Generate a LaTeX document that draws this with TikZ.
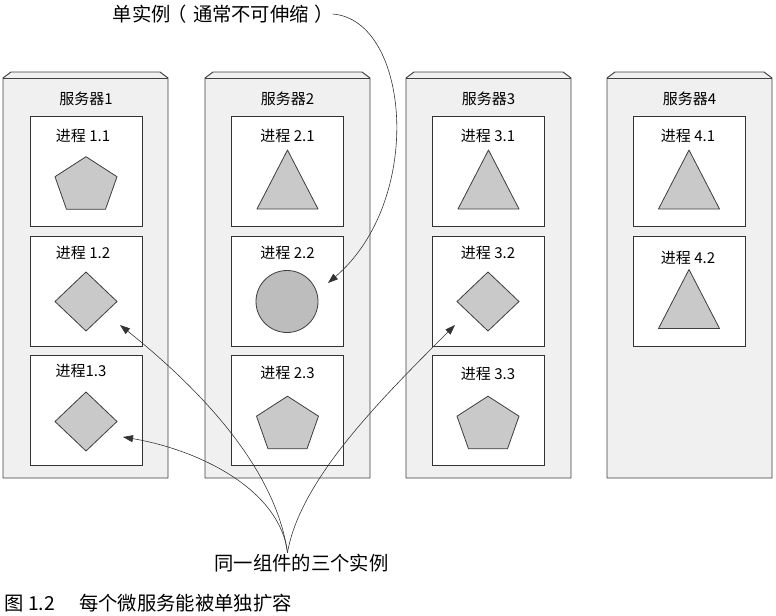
\documentclass[tikz,border=0pt]{standalone}
\usepackage{fontspec}
\setmainfont{Noto Sans CJK SC}
\usepackage{tikz}
\usetikzlibrary{arrows.meta}
\newcommand{\pxu}{0.3mm}
\definecolor{srvgray}{gray}{0.94}
\definecolor{shpgray}{gray}{0.79}
\definecolor{cirgray}{gray}{0.74}
\definecolor{lngray}{gray}{0.25}
\tikzset{
    srv/.style={draw=lngray, line width=0.8pt, fill=srvgray, line join=round},
    proc/.style={draw=black!80, line width=0.8pt, fill=white, inner sep=0pt,
        minimum width=112*\pxu, minimum height=110*\pxu},
    ptext/.style={font=\fontsize{12.8}{15}\selectfont, inner sep=0pt},
    bigtext/.style={font=\fontsize{16.5}{20}\selectfont, inner sep=1pt},
    shp/.style={draw=black!75, line width=0.7pt, fill=shpgray, line join=round},
    pointer/.style={draw=black!80, line width=0.5pt, -{Triangle[length=3mm,width=2.1mm]}},
}
\tikzset{pentashape/.pic={\draw[shp] (0,-26.3) -- (31,-6.3) -- (19.5,26.3) -- (-19.5,26.3) -- (-31,-6.3) -- cycle;}}
\tikzset{trishape/.pic={\draw[shp] (0,-29.5) -- (30.5,29.5) -- (-30.5,29.5) -- cycle;}}
\tikzset{diashape/.pic={\draw[shp] (0,-29.5) -- (31,0) -- (0,29.5) -- (-31,0) -- cycle;}}
\begin{document}
\begin{tikzpicture}[x=\pxu, y=-\pxu]
\useasboundingbox[fill=white] (0,0) rectangle (776,615);
%servers
\draw[srv] (3,478) -- (3,78) -- (11,72) -- (160,72) -- (168,78) -- (168,478) -- cycle;
\draw[lngray] (3,78) -- (168,78);
\draw[srv] (205,478) -- (205,78) -- (213,72) -- (362,72) -- (370,78) -- (370,478) -- cycle;
\draw[lngray] (205,78) -- (370,78);
\draw[srv] (406,478) -- (406,78) -- (414,72) -- (563,72) -- (571,78) -- (571,478) -- cycle;
\draw[lngray] (406,78) -- (571,78);
\draw[srv] (607,478) -- (607,78) -- (615,72) -- (764,72) -- (772,78) -- (772,478) -- cycle;
\draw[lngray] (607,78) -- (772,78);
\node[ptext] (s1) at (86,99) {服务器1};
\node[ptext] (s2) at (287.5,99) {服务器2};
\node[ptext] (s3) at (488.5,99) {服务器3};
\node[ptext] (s4) at (689.5,99) {服务器4};
%processes
\node[proc] (p11) at (86.5,171) {};
\node[proc] (p12) at (86.5,291) {};
\node[proc] (p13) at (86.5,410.5) {};
\node[proc] (p21) at (287.5,171) {};
\node[proc] (p22) at (287.5,291) {};
\node[proc] (p23) at (287.5,410.5) {};
\node[proc] (p31) at (488,171) {};
\node[proc] (p32) at (488,291) {};
\node[proc] (p33) at (488,410.5) {};
\node[proc] (p41) at (689,171) {};
\node[proc] (p42) at (689,291) {};
\node[ptext] (l11) at (83,136) {进程 1.1};
\node[ptext] (l12) at (83,253) {进程 1.2};
\node[ptext] (l13) at (81,371) {进程1.3};
\node[ptext] (l21) at (287.5,136) {进程 2.1};
\node[ptext] (l22) at (287.5,253) {进程 2.2};
\node[ptext] (l23) at (287.5,373) {进程 2.3};
\node[ptext] (l31) at (488,136) {进程 3.1};
\node[ptext] (l32) at (488,253) {进程 3.2};
\node[ptext] (l33) at (488,374) {进程 3.3};
\node[ptext] (l41) at (688,136) {进程 4.1};
\node[ptext] (l42) at (688,258) {进程 4.2};
%shapes
\pic at (86,183) {pentashape};
\pic at (287.5,179.5) {trishape};
\pic at (488.5,179.5) {trishape};
\pic at (689,179.5) {trishape};
\pic at (86,301.5) {diashape};
\draw[shp, fill=cirgray] (287,301.5) circle (31);
\pic at (488,301.5) {diashape};
\pic at (689,299) {trishape};
\pic at (86,421.5) {diashape};
\pic at (287.5,422.5) {pentashape};
\pic at (488,422.5) {pentashape};
%labels
\node[bigtext] (single) at (222,14) {单实例\kern-0.15em（\kern0.3em通常不可伸缩\kern0.3em）\kern-0.15em};
\node[bigtext] (inst) at (301.5,563) {同一组件的三个实例};
\node[bigtext, anchor=west] (cap) at (3,603) {图 1.2\hspace{1.25em}每个微服务能被单独扩容};
%pointers
\coordinate (tip22) at (328,283);
\coordinate (tip12) at (120,325);
\coordinate (tip13) at (123,437);
\coordinate (tip32) at (455,325);
\coordinate (fork) at (inst.north -| p23.center);
\draw[pointer] (single.east) .. controls (410,20) and (425,200) .. (tip22);
\draw[pointer] (fork) .. controls (280,490) and (200,450) .. (tip13);
\draw[pointer] (fork) .. controls (275,465) and (195,385) .. (tip12);
\draw[pointer] (fork) .. controls (300,480) and (380,400) .. (tip32);
\end{tikzpicture}
\end{document}
